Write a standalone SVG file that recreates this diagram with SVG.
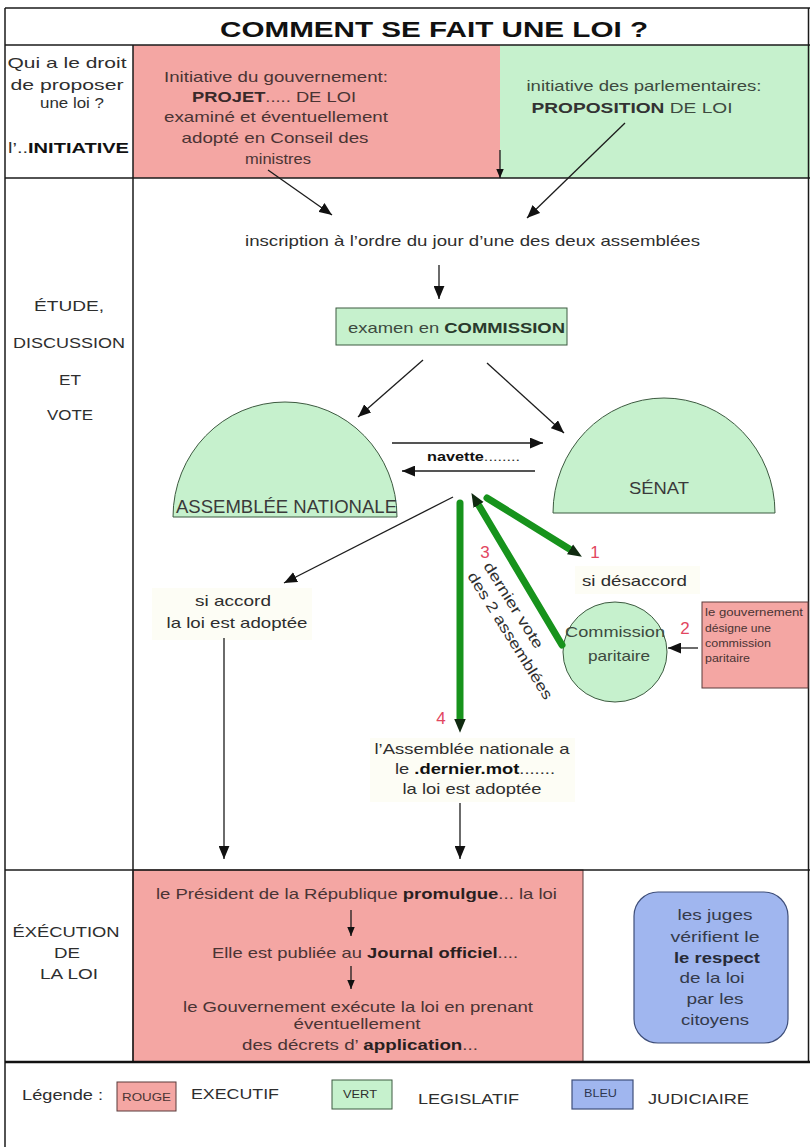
<svg xmlns="http://www.w3.org/2000/svg" width="810" height="1147" viewBox="0 0 810 1147">
<style>
text{font-family:"Liberation Sans",Arial,Helvetica,sans-serif;fill:#2e2e2e;font-size:15px}
.b{font-weight:bold;fill:#111}
.m{text-anchor:middle}
.red{fill:#f4a6a3;stroke:#5a3b3b;stroke-width:1}
.grn{fill:#c6f1cd;stroke:#3d5a40;stroke-width:1}
.blu{fill:#a0b6ef;stroke:#3f4f7a;stroke-width:1.2}
.rt{fill:#4a3434}
.num{fill:#e2465f;font-size:17px}
.ln{stroke:#1c1c1c;stroke-width:1.3;fill:none}
.gl{stroke:#17931c;stroke-width:7;fill:none;stroke-linecap:round}
.frame{stroke:#1a1a1a;stroke-width:1.5;fill:none}
.fa{fill:#fdfdf5}
</style>
<defs>
<marker id="ah" viewBox="0 0 12 10" refX="12" refY="5" markerWidth="13" markerHeight="11" markerUnits="userSpaceOnUse" orient="auto"><path d="M0,0 L12,5 L0,10 z" fill="#111"/></marker>
<marker id="as" viewBox="0 0 12 10" refX="12" refY="5" markerWidth="9" markerHeight="9" markerUnits="userSpaceOnUse" orient="auto"><path d="M0,0 L12,5 L0,10 z" fill="#111"/></marker>
<marker id="ga" viewBox="0 0 12 10" refX="1" refY="5" markerWidth="14" markerHeight="13" markerUnits="userSpaceOnUse" orient="auto"><path d="M0,0 L12,5 L0,10 z" fill="#102a10"/></marker>
</defs>

<!-- background zones -->
<g id="zones">
<rect x="133" y="45" width="367" height="133" fill="#f4a6a3"/>
<rect x="500" y="45" width="310" height="133" fill="#c6f1cd"/>
<rect x="133" y="870" width="450" height="192" class="red"/>
<rect class="fa" x="152" y="588" width="160" height="52"/>
<rect class="fa" x="575" y="566" width="125" height="28"/>
<rect class="fa" x="370" y="738" width="205" height="64"/>
</g>

<!-- frame -->
<g id="frame">
<line class="frame" x1="5" y1="8" x2="810" y2="8"/>
<line class="frame" x1="5" y1="8" x2="5" y2="1147"/>
<line class="frame" x1="808.5" y1="8" x2="808.5" y2="1062"/>
<line class="frame" x1="5" y1="45" x2="810" y2="45"/>
<line class="frame" x1="133" y1="45" x2="133" y2="1062"/>
<line class="frame" x1="5" y1="178" x2="810" y2="178"/>
<line class="frame" x1="5" y1="870" x2="810" y2="870"/>
<line x1="5" y1="1062" x2="810" y2="1062" stroke="#111" stroke-width="2.5"/>
</g>

<g id="title"><text class="m b" x="434" y="37" textLength="428" lengthAdjust="spacingAndGlyphs" style="font-size:22px">COMMENT SE FAIT UNE LOI  ?</text></g>

<g id="label-initiative">
<text class="m" x="67" y="68" textLength="119" lengthAdjust="spacingAndGlyphs">Qui a le droit</text>
<text class="m" x="67" y="90" textLength="113" lengthAdjust="spacingAndGlyphs">de proposer</text>
<text class="m" x="72" y="108" textLength="64" lengthAdjust="spacingAndGlyphs">une loi ?</text>
<text x="8" y="153" textLength="121" lengthAdjust="spacingAndGlyphs">l’..<tspan class="b">INITIATIVE</tspan></text>
</g>

<g id="projet">
<text class="m rt" x="276" y="82" textLength="224" lengthAdjust="spacingAndGlyphs">Initiative du gouvernement:</text>
<text class="m rt" x="274" y="102" textLength="164" lengthAdjust="spacingAndGlyphs"><tspan class="b" style="fill:#3a2a2a">PROJET</tspan>..... DE LOI</text>
<text class="m rt" x="276" y="122" textLength="224" lengthAdjust="spacingAndGlyphs">examiné et éventuellement</text>
<text class="m rt" x="275" y="143" textLength="187" lengthAdjust="spacingAndGlyphs">adopté en Conseil des</text>
<text class="m rt" x="278" y="164" textLength="66" lengthAdjust="spacingAndGlyphs">ministres</text>
</g>

<g id="proposition">
<text class="m" x="644" y="91" textLength="235" lengthAdjust="spacingAndGlyphs" style="fill:#3d4a3f">initiative des parlementaires:</text>
<text class="m" x="632" y="113" textLength="201" lengthAdjust="spacingAndGlyphs" style="fill:#3d4a3f"><tspan class="b" style="fill:#333">PROPOSITION</tspan> DE LOI</text>
</g>

<g id="label-etude">
<text class="m" x="69" y="311" textLength="70" lengthAdjust="spacingAndGlyphs">ÉTUDE,</text>
<text class="m" x="69" y="348" textLength="112" lengthAdjust="spacingAndGlyphs">DISCUSSION</text>
<text class="m" x="70" y="385" textLength="22" lengthAdjust="spacingAndGlyphs">ET</text>
<text class="m" x="70" y="420" textLength="46" lengthAdjust="spacingAndGlyphs">VOTE</text>
</g>

<g id="inscription"><text x="245" y="246" textLength="455" lengthAdjust="spacingAndGlyphs">inscription à l’ordre du jour d’une des deux assemblées</text></g>

<g id="commission">
<rect x="336" y="308" width="231" height="37" class="grn"/>
<text x="348" y="333" textLength="217" lengthAdjust="spacingAndGlyphs" style="fill:#3d4a3f">examen en <tspan class="b" style="fill:#2a3a2c">COMMISSION</tspan></text>
</g>

<g id="assemblee">
<path d="M173,517 A112,115 0 0 1 397,517 Z" class="grn"/>
<text x="176" y="513" textLength="221" lengthAdjust="spacingAndGlyphs" style="font-size:18px;fill:#3a3a3a">ASSEMBLÉE NATIONALE</text>
</g>

<g id="senat">
<path d="M553,513 A111,115 0 0 1 775,513 Z" class="grn"/>
<text class="m" x="659" y="494" textLength="60" lengthAdjust="spacingAndGlyphs" style="font-size:16px;fill:#3a3a3a">SÉNAT</text>
</g>

<g id="navette"><text x="427" y="461" textLength="93" lengthAdjust="spacingAndGlyphs" style="font-size:13px"><tspan class="b">navette</tspan>........</text></g>

<g id="si-accord">
<text class="m" x="233" y="606" textLength="76" lengthAdjust="spacingAndGlyphs">si accord</text>
<text class="m" x="237" y="628" textLength="141" lengthAdjust="spacingAndGlyphs">la loi est adoptée</text>
</g>

<g id="si-desaccord"><text x="582" y="586" textLength="105" lengthAdjust="spacingAndGlyphs">si désaccord</text></g>

<g id="commission-paritaire">
<ellipse cx="615" cy="652" rx="52" ry="50" class="grn"/>
<text class="m" x="615" y="637" textLength="100" lengthAdjust="spacingAndGlyphs" style="fill:#3d4a3f">Commission</text>
<text class="m" x="619" y="661" textLength="62" lengthAdjust="spacingAndGlyphs" style="fill:#3d4a3f">paritaire</text>
</g>

<g id="gouv-designe">
<rect x="702" y="602" width="106" height="86" class="red"/>
<text class="rt" x="705" y="616" textLength="98" lengthAdjust="spacingAndGlyphs" style="font-size:11px">le gouvernement</text>
<text class="rt" x="705" y="632" textLength="66" lengthAdjust="spacingAndGlyphs" style="font-size:11px">désigne une</text>
<text class="rt" x="705" y="647" textLength="66" lengthAdjust="spacingAndGlyphs" style="font-size:11px">commission</text>
<text class="rt" x="705" y="662" textLength="45" lengthAdjust="spacingAndGlyphs" style="font-size:11px">paritaire</text>
</g>

<g id="numbers">
<text class="num m" x="595" y="558">1</text>
<text class="num m" x="685" y="634">2</text>
<text class="num m" x="485" y="558">3</text>
<text class="num m" x="441" y="724">4</text>
</g>

<g id="dernier-vote" transform="translate(483,566) rotate(58)">
<text x="0" y="0" textLength="99" lengthAdjust="spacingAndGlyphs">dernier vote</text>
<text x="0" y="19" textLength="147" lengthAdjust="spacingAndGlyphs">des 2 assemblées</text>
</g>

<g id="dernier-mot">
<text class="m" x="472" y="754" textLength="195" lengthAdjust="spacingAndGlyphs">l’Assemblée nationale a</text>
<text class="m" x="475" y="774" textLength="160" lengthAdjust="spacingAndGlyphs">le <tspan class="b">.dernier.mot</tspan>.......</text>
<text class="m" x="472" y="794" textLength="139" lengthAdjust="spacingAndGlyphs">la loi est adoptée</text>
</g>

<g id="execution-label">
<text class="m" x="66" y="937" textLength="107" lengthAdjust="spacingAndGlyphs">ÉXÉCUTION</text>
<text class="m" x="67" y="958" textLength="26" lengthAdjust="spacingAndGlyphs">DE</text>
<text class="m" x="69" y="979" textLength="58" lengthAdjust="spacingAndGlyphs">LA LOI</text>
</g>

<g id="execution">
<text class="rt" x="156" y="899" textLength="401" lengthAdjust="spacingAndGlyphs">le Président de la République <tspan class="b" style="fill:#2a1f1f">promulgue</tspan>... la loi</text>
<text class="rt" x="212" y="958" textLength="306" lengthAdjust="spacingAndGlyphs">Elle est publiée au <tspan class="b" style="fill:#2a1f1f">Journal officiel</tspan>....</text>
<text class="rt" x="183" y="1012" textLength="350" lengthAdjust="spacingAndGlyphs">le Gouvernement exécute la loi en prenant</text>
<text class="rt m" x="357" y="1029" textLength="127" lengthAdjust="spacingAndGlyphs">éventuellement</text>
<text class="rt" x="242" y="1050" textLength="236" lengthAdjust="spacingAndGlyphs">des décrets d’ <tspan class="b" style="fill:#2a1f1f">application</tspan>...</text>
</g>

<g id="juges">
<rect x="634" y="892" width="154" height="151" rx="24" ry="24" class="blu"/>
<text class="m" x="715" y="920" textLength="75" lengthAdjust="spacingAndGlyphs" style="fill:#343a4a">les juges</text>
<text class="m" x="715" y="942" textLength="89" lengthAdjust="spacingAndGlyphs" style="fill:#343a4a">vérifient le</text>
<text class="m b" x="717" y="963" textLength="86" lengthAdjust="spacingAndGlyphs" style="fill:#262a36">le respect</text>
<text class="m" x="712" y="983" textLength="65" lengthAdjust="spacingAndGlyphs" style="fill:#343a4a">de la loi</text>
<text class="m" x="715" y="1004" textLength="57" lengthAdjust="spacingAndGlyphs" style="fill:#343a4a">par les</text>
<text class="m" x="715" y="1025" textLength="68" lengthAdjust="spacingAndGlyphs" style="fill:#343a4a">citoyens</text>
</g>

<g id="legende">
<text x="22" y="1100" textLength="81" lengthAdjust="spacingAndGlyphs">Légende :</text>
<rect x="117" y="1082" width="59" height="29" class="red"/>
<text class="m rt" x="146.5" y="1101" textLength="49" lengthAdjust="spacingAndGlyphs" style="font-size:11px">ROUGE</text>
<text x="191" y="1099" textLength="88" lengthAdjust="spacingAndGlyphs">EXECUTIF</text>
<rect x="332" y="1080" width="60" height="29" class="grn"/>
<text class="m" x="360" y="1098" textLength="34" lengthAdjust="spacingAndGlyphs" style="font-size:11px">VERT</text>
<text x="418" y="1104" textLength="101" lengthAdjust="spacingAndGlyphs">LEGISLATIF</text>
<rect x="572" y="1080" width="61" height="29" class="blu"/>
<text class="m" x="600.5" y="1097" textLength="33" lengthAdjust="spacingAndGlyphs" style="font-size:11px;fill:#2f3650">BLEU</text>
<text x="648" y="1104" textLength="101" lengthAdjust="spacingAndGlyphs">JUDICIAIRE</text>
</g>

<g id="connectors">
<line class="ln" x1="500" y1="150" x2="500" y2="178" marker-end="url(#as)"/>
<line class="ln" x1="268" y1="170" x2="332" y2="215" marker-end="url(#ah)"/>
<line class="ln" x1="625" y1="123" x2="527" y2="218" marker-end="url(#ah)"/>
<line class="ln" x1="439" y1="265" x2="439" y2="299" marker-end="url(#ah)"/>
<line class="ln" x1="423" y1="360" x2="358" y2="417" marker-end="url(#ah)"/>
<line class="ln" x1="487" y1="363" x2="564" y2="433" marker-end="url(#ah)"/>
<line class="ln" x1="392" y1="443" x2="543" y2="443" marker-end="url(#ah)"/>
<line class="ln" x1="535" y1="471" x2="402" y2="471" marker-end="url(#ah)"/>
<line class="ln" x1="453" y1="497" x2="284" y2="583" marker-end="url(#ah)"/>
<line class="ln" x1="224" y1="638" x2="224" y2="859" marker-end="url(#ah)"/>
<line class="ln" x1="460" y1="803" x2="460" y2="859" marker-end="url(#ah)"/>
<line class="ln" x1="698" y1="648" x2="668" y2="648" marker-end="url(#ah)"/>
<line class="ln" x1="351" y1="910" x2="351" y2="936" marker-end="url(#as)"/>
<line class="ln" x1="351" y1="966" x2="351" y2="989" marker-end="url(#as)"/>
<line class="gl" x1="487" y1="498" x2="571" y2="550" marker-end="url(#ga)"/>
<line class="gl" x1="562" y1="645" x2="478" y2="504" marker-end="url(#ga)"/>
<line class="gl" x1="460" y1="503" x2="460" y2="720" marker-end="url(#ga)"/>
</g>
</svg>
